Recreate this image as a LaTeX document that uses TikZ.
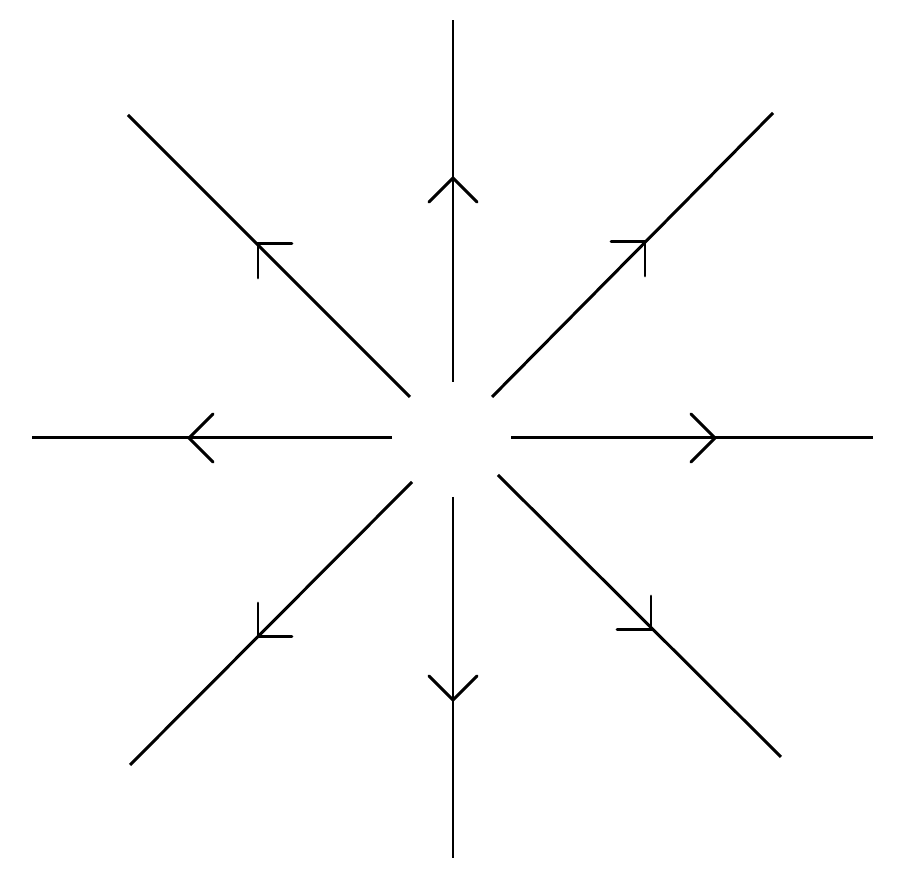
\documentclass[tikz,border=0pt]{standalone}
\begin{document}
\begin{tikzpicture}[x=0.02cm,y=0.02cm,
  ray/.style={line width=1.7pt,line cap=butt},
  barb/.pic={\draw[line width=1.7pt,line cap=round,line join=miter] (-24,24) -- (0,0) -- (-24,-24);}]
\useasboundingbox (0,0) rectangle (900,884);
% rays: start near centre, end outward
\coordinate (uS) at (453,502); \coordinate (uE) at (453,864); \coordinate (uT) at (453,706);
\coordinate (ulS) at (410,487); \coordinate (ulE) at (128,769); \coordinate (ulT) at (258,640);
\coordinate (lS) at (392,446); \coordinate (lE) at (32,446); \coordinate (lT) at (189,446);
\coordinate (urS) at (492,487); \coordinate (urE) at (773,771); \coordinate (urT) at (645,642);
\coordinate (rS) at (511,446); \coordinate (rE) at (873,446); \coordinate (rT) at (715,446);
\coordinate (drS) at (498,409); \coordinate (drE) at (781,127); \coordinate (drT) at (651,254);
\coordinate (dS) at (453,387); \coordinate (dE) at (453,26); \coordinate (dT) at (453,184);
\coordinate (dlS) at (412,402); \coordinate (dlE) at (130,119); \coordinate (dlT) at (258,247);
\foreach \r in {u,ul,l,ur,r,dr,d,dl}{\draw[ray] (\r S) -- (\r E);}
\pic[rotate=90] at (uT) {barb};
\pic[rotate=135] at (ulT) {barb};
\pic[rotate=180] at (lT) {barb};
\pic[rotate=45] at (urT) {barb};
\pic[rotate=0] at (rT) {barb};
\pic[rotate=-45] at (drT) {barb};
\pic[rotate=-90] at (dT) {barb};
\pic[rotate=-135] at (dlT) {barb};
\end{tikzpicture}
\end{document}
